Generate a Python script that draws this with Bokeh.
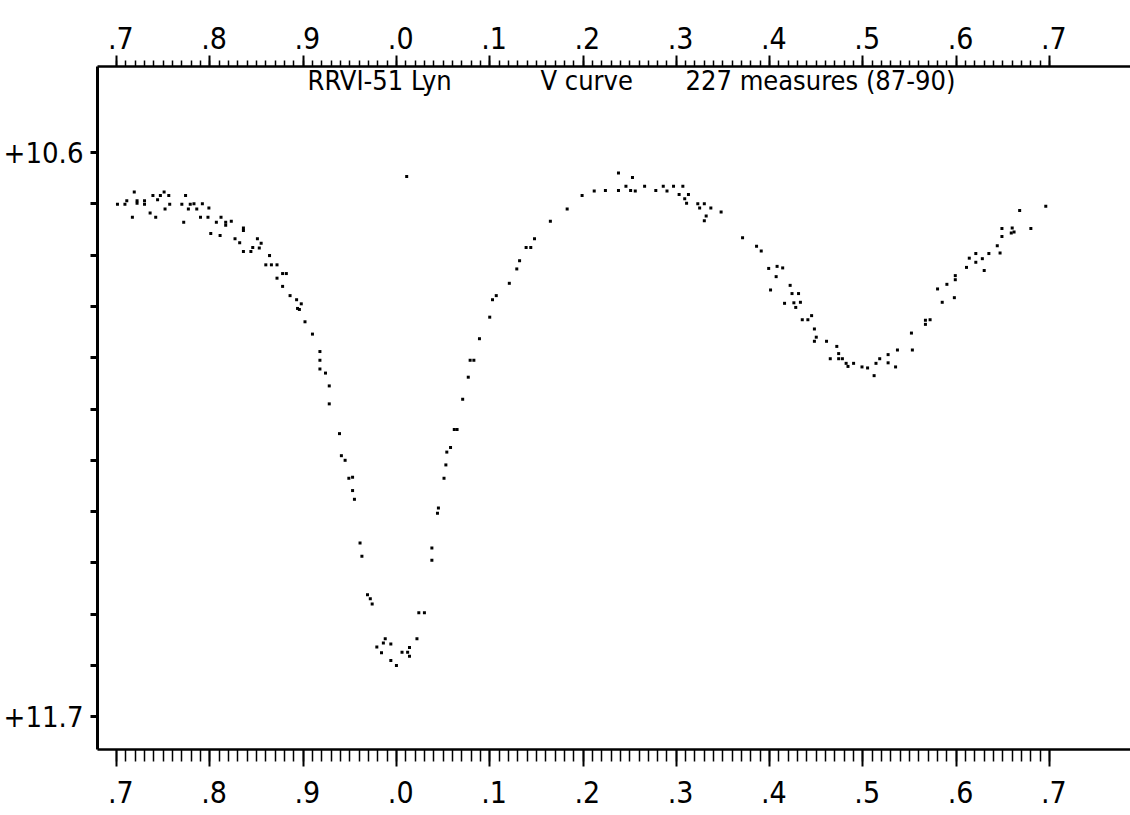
from bokeh.plotting import figure
from bokeh.models import Range1d, LinearAxis, FixedTicker, CustomJSTickFormatter, Label, ColumnDataSource
from bokeh.embed import file_html
from bokeh.resources import INLINE

# ---------------- data ----------------
phase = [
    0.701, 0.709, 0.711, 0.717, 0.719, 0.722, 0.722, 0.730, 0.730, 0.736,
    0.739, 0.742, 0.744, 0.747, 0.751, 0.752, 0.756, 0.757, 0.770, 0.772,
    0.774, 0.777, 0.779, 0.783, 0.786, 0.790, 0.792, 0.798, 0.799, 0.801,
    0.807, 0.811, 0.812, 0.817, 0.817, 0.823, 0.827, 0.832, 0.836, 0.836,
    0.836, 0.844, 0.846, 0.851, 0.853, 0.855, 0.860, 0.864, 0.866, 0.872,
    0.872, 0.878, 0.882, 0.878, 0.886, 0.893, 0.898, 0.894, 0.896, 0.902,
    0.910, 0.918, 0.918, 0.918, 1.011, 0.924, 0.928, 0.928, 0.939, 0.941,
    0.945, 0.949, 0.953, 0.953, 0.955, 0.961, 0.963, 0.969, 0.972, 0.974,
    0.988, 0.986, 0.994, 0.979, 0.984, 0.994, 1.000, 1.006, 1.012, 1.014,
    1.014, 1.022, 1.024, 1.030, 1.038, 1.038, 1.044, 1.045, 1.051, 1.053,
    1.054, 1.058, 1.062, 1.065, 1.071, 1.077, 1.079, 1.083, 1.089, 1.100,
    1.103, 1.107, 1.121, 1.129, 1.132, 1.139, 1.144, 1.148, 1.165, 1.183,
    1.199, 1.212, 1.224, 1.238, 1.238, 1.246, 1.251, 1.253, 1.256, 1.266,
    1.278, 1.286, 1.290, 1.297, 1.303, 1.307, 1.309, 1.311, 1.313, 1.323,
    1.325, 1.330, 1.332, 1.330, 1.337, 1.348, 1.371, 1.386, 1.391, 1.399,
    1.407, 1.408, 1.414, 1.401, 1.422, 1.424, 1.431, 1.416, 1.426, 1.428,
    1.433, 1.435, 1.441, 1.445, 1.448, 1.450, 1.448, 1.461, 1.472, 1.465,
    1.474, 1.474, 1.478, 1.482, 1.484, 1.490, 1.499, 1.505, 1.512, 1.514,
    1.518, 1.527, 1.527, 1.535, 1.537, 1.552, 1.553, 1.567, 1.567, 1.572,
    1.580, 1.585, 1.590, 1.598, 1.599, 1.599, 1.611, 1.614, 1.621, 1.621,
    1.628, 1.630, 1.635, 1.644, 1.647, 1.649, 1.649, 1.659, 1.660, 1.662,
    1.668, 1.680, 1.696,
]
mag = [
    10.701, 10.701, 10.694, 10.726, 10.677, 10.694, 10.699, 10.694, 10.701, 10.718,
    10.684, 10.726, 10.692, 10.684, 10.677, 10.710, 10.684, 10.701, 10.701, 10.736,
    10.684, 10.710, 10.701, 10.700, 10.710, 10.726, 10.700, 10.726, 10.708, 10.758,
    10.736, 10.762, 10.726, 10.736, 10.742, 10.734, 10.768, 10.776, 10.747, 10.752,
    10.793, 10.793, 10.785, 10.768, 10.786, 10.777, 10.819, 10.801, 10.819, 10.819,
    10.845, 10.836, 10.836, 10.861, 10.879, 10.887, 10.895, 10.904, 10.906, 10.930,
    10.954, 10.988, 11.005, 11.022, 10.647, 11.030, 11.055, 11.090, 11.148, 11.191,
    11.200, 11.235, 11.233, 11.259, 11.276, 11.361, 11.387, 11.462, 11.470, 11.480,
    11.548, 11.556, 11.558, 11.564, 11.575, 11.590, 11.600, 11.574, 11.574, 11.582,
    11.565, 11.548, 11.497, 11.497, 11.395, 11.371, 11.303, 11.293, 11.235, 11.209,
    11.184, 11.175, 11.140, 11.140, 11.081, 11.038, 11.005, 11.005, 10.963, 10.921,
    10.887, 10.879, 10.855, 10.827, 10.811, 10.785, 10.785, 10.768, 10.734, 10.710,
    10.684, 10.675, 10.674, 10.674, 10.640, 10.666, 10.674, 10.649, 10.675, 10.666,
    10.674, 10.666, 10.675, 10.666, 10.682, 10.666, 10.690, 10.699, 10.682, 10.700,
    10.708, 10.700, 10.724, 10.733, 10.708, 10.716, 10.766, 10.783, 10.792, 10.826,
    10.842, 10.822, 10.825, 10.868, 10.859, 10.875, 10.875, 10.894, 10.893, 10.902,
    10.892, 10.926, 10.926, 10.918, 10.944, 10.960, 10.968, 10.968, 10.978, 11.002,
    10.992, 11.002, 11.002, 11.011, 11.017, 11.011, 11.018, 11.020, 11.035, 11.011,
    11.002, 10.994, 11.010, 11.018, 10.985, 10.952, 10.985, 10.927, 10.935, 10.926,
    10.866, 10.892, 10.857, 10.883, 10.840, 10.848, 10.824, 10.806, 10.797, 10.814,
    10.807, 10.830, 10.797, 10.782, 10.796, 10.748, 10.764, 10.757, 10.747, 10.755,
    10.713, 10.748, 10.705,
]

x_ticks = [0.7, 0.8, 0.9, 1.0, 1.1, 1.2, 1.3, 1.4, 1.5, 1.6, 1.7]
x_tick_labels = [".7", ".8", ".9", ".0", ".1", ".2", ".3", ".4", ".5", ".6", ".7"]
y_ticks = [10.6, 10.7, 10.8, 10.9, 11.0, 11.1, 11.2, 11.3, 11.4, 11.5, 11.6, 11.7]
y_tick_labels = ["+10.6", "", "", "", "", "", "", "", "", "", "", "+11.7"]
title_parts = ["RRVI-51 Lyn", "V curve", "227 measures (87-90)"]

FONT = "DejaVu Sans Condensed, DejaVu Sans"

# ---------------- figure ----------------
p = figure(width=1130, height=815, output_backend="svg", toolbar_location=None,
           x_range=Range1d(0.6796, 1.7868), y_range=Range1d(11.7637, 10.4324),
           x_axis_location=None, y_axis_location=None,
           min_border_left=97, min_border_right=0, min_border_top=66, min_border_bottom=66)
p.outline_line_color = None
p.xgrid.visible = False
p.ygrid.visible = False
p.background_fill_color = "white"
p.border_fill_color = "white"

x_minor = [round(0.7 + i * 0.01, 2) for i in range(101)]
JS_LOOKUP = """
    let best = -1, bd = 1e9;
    for (let i = 0; i < tv.length; i++) {
        const d = Math.abs(tv[i] - tick);
        if (d < bd) { bd = d; best = i; }
    }
    return bd < 1e-6 ? pre + lb[best] : '';
"""
x_fmt = CustomJSTickFormatter(args=dict(tv=x_ticks, lb=x_tick_labels, pre="\u00a0"), code=JS_LOOKUP)
y_fmt = CustomJSTickFormatter(args=dict(tv=y_ticks, lb=y_tick_labels, pre=""), code=JS_LOOKUP)

def style_x(ax, major_out, minor_out, standoff):
    ax.ticker = FixedTicker(ticks=x_ticks, minor_ticks=x_minor)
    ax.formatter = x_fmt
    ax.axis_line_color = "black"
    ax.axis_line_width = 2.5
    ax.major_tick_line_color = "black"
    ax.major_tick_line_width = 2
    ax.minor_tick_line_color = "black"
    ax.minor_tick_line_width = 1.5
    ax.major_tick_in = 0
    ax.minor_tick_in = 0
    ax.major_tick_out = major_out
    ax.minor_tick_out = minor_out
    ax.major_label_standoff = standoff
    ax.major_label_text_font = FONT
    ax.major_label_text_font_size = "30px"
    ax.major_label_text_color = "black"

bottom = LinearAxis()
style_x(bottom, 17, 12, 8)
p.add_layout(bottom, "below")

top = LinearAxis()
style_x(top, 11, 6, 0)
p.add_layout(top, "above")

left = LinearAxis()
left.ticker = FixedTicker(ticks=y_ticks, minor_ticks=[])
left.formatter = y_fmt
left.axis_line_color = "black"
left.axis_line_width = 3
left.major_tick_line_color = "black"
left.major_tick_line_width = 3
left.major_tick_in = 0
left.major_tick_out = 7
left.minor_tick_line_color = None
left.major_label_standoff = 7
left.major_label_text_font = FONT
left.major_label_text_font_size = "29px"
left.major_label_text_color = "black"
p.add_layout(left, "left")

src = ColumnDataSource(dict(phase=phase, mag=mag))
p.scatter("phase", "mag", source=src, marker="square", size=3,
          fill_color="black", line_color=None)

# title pieces (inside the frame, under the top axis)
for txt, xpos in zip(title_parts, [0.9047, 1.1544, 1.3099]):
    p.add_layout(Label(x=xpos, y=10.4600, text=txt, text_font=FONT,
                       text_font_size="27px", text_color="black",
                       text_align="left", text_baseline="middle"))

open("out.html", "w").write(file_html(p, INLINE))
